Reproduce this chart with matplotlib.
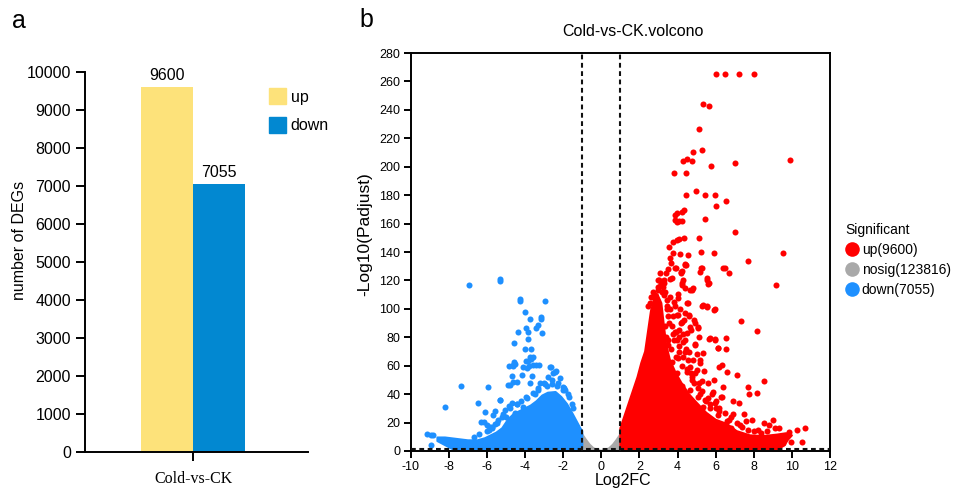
import numpy as np
import matplotlib.pyplot as plt
from matplotlib.patches import Patch
from matplotlib.lines import Line2D

plt.rcParams['font.family'] = ['Liberation Sans', 'DejaVu Sans']
plt.rcParams['axes.unicode_minus'] = False

# ---- panel a: counts of DEGs
groups = ['Cold-vs-CK']
deg_labels = ['up', 'down']
deg_counts = [9600, 7055]
bar_colors = ['#FDE27A', '#0288D1']

# ---- panel b: volcano, scattered points
up_x = [6.0, 6.5, 7.2, 8.0, 5.35, 5.63, 5.13, 4.79, 5.27, 9.92, 3.80, 4.44,
        4.27, 4.51, 4.76, 5.77, 7.03, 4.95, 4.46, 5.42, 5.97, 6.56, 6.0, 4.35,
        4.25, 3.97, 3.88, 4.23, 3.88, 3.99, 4.09, 5.44, 7.03, 5.13, 4.32, 4.09,
        3.95, 3.74, 3.57, 9.55, 7.70, 9.15, 7.33, 8.19, 5.93, 5.25, 6.49, 6.72,
        5.56, 5.63, 5.23, 5.18, 5.27, 5.55, 5.93, 5.65, 5.98, 6.53, 6.11, 6.56,
        6.18, 6.61, 7.12, 8.54, 7.71, 7.75, 8.15, 8.99, 10.7, 10.28, 9.86, 9.55,
        9.97, 10.51, 9.15, 8.55, 3.78, 4.13, 4.53, 3.60, 3.92, 4.17, 4.39, 4.22,
        4.65, 4.04, 3.69, 3.15, 3.25, 2.91, 2.73, 4.57, 5.06, 4.48, 4.18, 4.44,
        3.87, 4.39, 4.22, 5.27, 3.22, 3.60, 4.22, 4.39, 4.74, 5.53, 5.62, 6.40,
        3.43, 4.04, 4.48, 5.36, 5.53, 5.97, 3.95, 4.39, 4.22, 4.65, 5.09, 3.87,
        5.71, 5.97, 6.14, 4.30, 4.91, 5.36, 4.39, 5.18, 6.31, 4.65, 4.48, 5.01,
        4.74, 5.27, 4.22, 4.65, 5.88, 5.09, 5.62, 6.31, 5.97, 5.36, 4.04, 3.52,
        3.69, 3.95, 2.82, 2.99, 3.34, 4.30, 4.83,
        3.5, 3.7, 3.9, 3.6, 3.3, 3.8, 4.0, 4.2, 4.4, 4.6, 4.8, 4.3, 4.1, 4.5,
        4.9, 5.1, 5.3, 5.0, 5.2, 4.7, 4.9, 5.4, 5.6, 5.8, 6.0, 6.2, 6.5, 6.8,
        7.1, 7.4, 7.7, 8.0, 8.4, 5.5, 5.7, 6.1, 6.6, 6.9, 7.2, 6.4, 5.9, 6.8,
        3.4, 3.45, 3.2, 3.6, 3.0, 2.8, 3.55, 4.85, 5.15, 4.6, 7.9, 8.8, 9.3,
        6.3, 7.5, 4.75, 3.95, 3.35, 2.6, 2.45, 3.1, 3.3, 2.7, 2.55, 3.05, 3.5,
        3.75, 4.1, 6.7, 7.3, 6.9, 8.2, 8.7, 9.1, 7.6, 6.2,
        3.4, 3.55, 3.65, 3.8, 3.9, 4.05, 3.75, 3.45, 3.85, 4.15, 4.1, 4.3,
        4.45, 4.55, 4.25, 4.7, 4.85, 5.05, 5.2, 5.45, 5.7, 6.0, 4.35, 3.3,
        3.1, 2.95, 3.5, 3.65, 4.6, 4.9]
up_y = [265, 265, 265, 265, 243.9, 242.7, 226.3, 210.6, 211.5, 205, 195.4, 195.4,
        204, 205.4, 204, 200.3, 202.8, 182.9, 180.4, 180.4, 180.4, 175.9, 172.7, 169.5,
        167.9, 167.2, 166, 161.8, 162.3, 160.9, 162, 163.2, 154.3, 150.1, 150, 149,
        148.4, 147, 143.7, 139.1, 133.7, 117, 91.5, 84.6, 139, 140, 128.7, 125.4,
        121.5, 118, 128.7, 126, 102.2, 102.2, 99.2, 79, 78.6, 79.5, 72.7, 71.5,
        59.1, 55.8, 53.5, 49.5, 44.8, 40.3, 40.6, 22, 16.4, 14.8, 13.4, 5.8,
        6.3, 6.3, 6.8, 19.7, 139.1, 138.6, 137.9, 135.6, 128.5, 125.9, 131.3, 118,
        113.3, 110.7, 121.5, 119.1, 115.6, 105, 99.2, 103.9, 86.3, 82.8, 125.4, 130.8,
        128.5, 130.9, 126.6, 128.5, 119.6, 121, 116.8, 114.4, 113.3, 120.3, 117.3, 128.5,
        106.2, 107.4, 103.9, 102.7, 101.5, 99.9, 95.7, 96.9, 91, 87.5, 87.5, 83.9,
        79.3, 78.1, 72.2, 76.9, 74.6, 68.7, 69.6, 64.2, 60.5, 59.3, 55.8, 57,
        50, 48.9, 45.4, 43, 41.8, 38.3, 37.1, 38.3, 33.6, 31.3, 65.2, 74.6,
        62.9, 54.6, 107.4, 115.6, 112.1, 120.3, 114.4,
        95, 88, 84, 100, 110, 105, 96, 90, 78, 70, 64, 66, 74, 58,
        55, 48, 42, 68, 62, 85, 75, 56, 48, 40, 35, 30, 27, 24,
        20, 17, 15, 14, 13, 35, 30, 25, 21, 35, 34, 45, 50, 16,
        125, 102, 112, 108, 113, 110, 62, 92, 80, 96, 22, 18, 16,
        38, 26, 52, 78, 88, 108, 102, 116, 118, 112, 104, 120, 78,
        82, 80, 22, 18, 26, 15, 14, 16, 21, 28,
        80, 90, 72, 78, 66, 70, 95, 100, 102, 100, 85, 82,
        72, 64, 60, 55, 48, 44, 40, 36, 33, 30, 92, 120,
        125, 120, 128, 132, 95, 90]

down_x = [-6.94, -5.33, -5.33, -4.28, -4.25, -2.97, -4.02, -3.74, -3.16, -3.15,
          -3.34, -3.43, -3.95, -4.37, -3.86, -3.13, -3.86, -4.58, -4.0, -3.70,
          -3.58, -3.69, -3.83, -3.97, -4.09, -3.78, -3.41, -3.25, -4.84, -4.62,
          -4.51, -4.56, -2.65, -2.38, -4.71, -4.41, -4.90, -3.64, -7.34, -5.93,
          -8.20, -6.47, -8.95, -9.16, -8.95, -8.83, -6.10, -5.58, -5.33, -6.33,
          -6.15, -5.72, -3.74, -3.56, -3.91, -4.61, -4.17, -4.79, -4.61, -3.74,
          -3.21, -2.78, -2.51, -5.31, -5.05, -4.53, -4.35, -4.09, -5.84, -5.66,
          -2.16, -1.90, -2.69, -2.43, -3.0, -2.6, -2.3, -1.95, -1.7, -3.5,
          -4.4, -3.9, -5.5, -5.2, -4.8, -6.0, -1.5, -2.0, -3.3, -2.85,
          -6.0, -5.9, -5.6, -5.4, -5.15, -5.0, -4.85, -4.7, -4.45, -4.2,
          -3.95, -3.6, -3.3, -2.95, -2.6, -2.25, -2.0, -1.75, -1.55, -6.4,
          -6.7, -5.75]
down_y = [116.8, 121, 119.6, 106.7, 105.5, 105.7, 97.8, 93.1, 94.5, 93.1,
          88.6, 86.3, 86.8, 83.7, 83.7, 82.8, 78.6, 76.2, 72, 71.5,
          65.9, 64.7, 63.3, 63.3, 58.9, 60, 60.3, 60.3, 59.5, 60,
          61.2, 62.6, 59.1, 56.5, 52.8, 48.8, 46.2, 52.8, 45.7, 45,
          30.7, 33.8, 4.4, 11.7, 11.3, 11.3, 27.2, 28.1, 35.7, 20.6,
          20.2, 17.1, 66.3, 60.5, 58.2, 60.5, 53.5, 46.4, 48.8, 47.6,
          47.6, 52.3, 54.6, 35.9, 28.8, 26.5, 21.8, 31.2, 17.2, 25.3,
          51.1, 42.9, 59.3, 55.8, 48, 47, 46, 44, 38, 40,
          33, 37, 20, 24, 30, 14, 30, 43, 43, 46,
          18, 15, 19, 22, 26, 24, 32, 34, 33, 35,
          38, 41, 44, 47, 50, 48, 45, 40, 33, 12,
          10, 16]

# outlines of the solid clouds where points overlap completely
up_core_x = [1.0, 1.0, 1.3, 1.6, 1.9, 2.1, 2.3, 2.45, 2.6, 2.75, 2.95, 3.15, 3.25,
             3.4, 3.6, 3.9, 4.2, 4.6, 5.0, 5.5, 6.0, 6.6, 7.1, 7.8,
             8.5, 9.2, 9.7, 10.0, 9.8, 9.6, 9.3]
up_core_y = [1.3, 16, 28, 40, 52, 62, 70, 84, 98, 106, 110, 104, 92,
             75, 64, 55, 48, 40, 34, 27, 22, 19, 14, 11,
             10.5, 11.5, 12.5, 11, 8, 4, 1.3]
down_core_x = [-8.6, -8.2, -7.6, -7.0, -6.5, -6.1, -5.8, -5.5, -5.2, -4.9, -4.6,
               -4.3, -4.0, -3.7, -3.4, -3.1, -2.8, -2.4, -2.1, -1.8, -1.5, -1.3,
               -1.1, -1.0, -1.0, -7.8, -8.6]
down_core_y = [9.5, 9.5, 8.5, 7.5, 7.5, 9, 11, 13, 16, 22, 26,
               28, 30, 32, 35, 39, 41, 41.5, 38, 33, 26, 21,
               16, 14, 1.3, 1.3, 7]
nosig_core_x = [-7.5, -1.3, -1.2, -1.0, -0.8, -0.6, -0.4, -0.2, 0.0, 0.2, 0.4,
                0.6, 0.8, 1.0, 1.2, 1.3, 8.0, 8.0, -7.5]
nosig_core_y = [1.3, 1.3, 12, 12, 8, 4.5, 2, 0.8, 0.3, 0.8, 2,
                4.5, 8, 12, 13, 1.3, 1.3, 0, 0]

sig_labels = ['up(9600)', 'nosig(123816)', 'down(7055)']
sig_colors = ['#FF0000', '#A9A9A9', '#1E90FF']

fig = plt.figure(figsize=(9.57, 4.9), dpi=100)

# ---------------- panel a
ax1 = fig.add_axes([0.0888, 0.0776, 0.233, 0.775])
width = 0.235
xpos = np.arange(len(groups))
for i, (lab, cnt, col) in enumerate(zip(deg_labels, deg_counts, bar_colors)):
    off = (i - 0.5) * width
    ax1.bar(xpos + off, [cnt], width, color=col, label=lab)
    ax1.annotate(str(cnt), (xpos[0] + off, cnt), xytext=(0, 3),
                 textcoords='offset points', ha='center', va='bottom', fontsize=11.5)
ax1.set_xlim(-0.49, 0.52)
ax1.set_ylim(0, 10000)
ax1.set_yticks(range(0, 10001, 1000))
ax1.set_xticks(xpos)
ax1.set_xticklabels(groups, family='Liberation Serif', fontsize=11.5)
for s in ['top', 'right']:
    ax1.spines[s].set_visible(False)
for s in ['left', 'bottom']:
    ax1.spines[s].set_linewidth(1.4)
ax1.tick_params(axis='both', direction='out', length=6.5, width=1.4, labelsize=11.5)
ax1.tick_params(axis='x', pad=7)
ax1.set_ylabel('number of DEGs', fontsize=11.5)
ax1.yaxis.set_label_coords(-0.26, 0.558)
handles = [Patch(color=c) for c in bar_colors]
fig.legend(handles, deg_labels, loc='upper left', bbox_to_anchor=(269 / 957, 1 - 88 / 490),
           frameon=False, fontsize=11.5, handlelength=1.06, handleheight=1.2,
           handletextpad=0.3, labelspacing=0.75, borderpad=0, borderaxespad=0)

# ---------------- panel b
ax2 = fig.add_axes([0.4292, 0.0796, 0.4381, 0.8122])
ax2.fill(nosig_core_x, nosig_core_y, color=sig_colors[1], lw=1.2, zorder=1)
ax2.fill(down_core_x, down_core_y, color=sig_colors[2], lw=1.5, joinstyle='round', zorder=2)
ax2.fill(up_core_x, up_core_y, color=sig_colors[0], lw=1.5, joinstyle='round', zorder=2)
ax2.scatter(down_x, down_y, s=19, color=sig_colors[2], lw=0, zorder=3)
ax2.scatter(up_x, up_y, s=19, color=sig_colors[0], lw=0, zorder=3)
for xv in [-1, 1]:
    ax2.axvline(xv, color='#111111', lw=1.5, ls=(0, (2.3, 1.7)), zorder=4)
ax2.axhline(1.3, color='#111111', lw=1.5, ls=(0, (2.3, 1.7)), zorder=4)
ax2.set_xlim(-10, 12)
ax2.set_ylim(0, 280)
ax2.set_xticks(range(-10, 13, 2))
ax2.set_yticks(range(0, 281, 20))
for s in ax2.spines.values():
    s.set_linewidth(1.4)
ax2.tick_params(axis='both', direction='out', length=5, width=1.4, labelsize=9, pad=2.5)
ax2.set_xlabel('Log2FC', fontsize=11.5)
ax2.xaxis.set_label_coords(0.506, -0.055)
ax2.set_ylabel('-Log10(Padjust)', fontsize=12.5)
ax2.yaxis.set_label_coords(-0.092, 0.545)
fig.text(632.7 / 957, 1 - 36 / 490, 'Cold-vs-CK.volcono', ha='center', va='baseline',
         fontsize=11.5)

sig_handles = [Line2D([], [], ls='', marker='o', markersize=10.5, markerfacecolor=c,
                      markeredgewidth=0) for c in sig_colors]
fig.legend(sig_handles, sig_labels, title='Significant', loc='upper left',
           bbox_to_anchor=(845 / 957, 1 - 223 / 490), frameon=False, fontsize=10,
           title_fontsize=10, alignment='left', handlelength=1.0, handletextpad=0.2,
           labelspacing=0.43, borderpad=0, borderaxespad=0)

fig.text(12 / 957, 1 - 28 / 490, 'a', fontsize=18, va='baseline')
fig.text(359 / 957, 1 - 27 / 490, 'b', fontsize=18, va='baseline')

fig.savefig('out.png', dpi=100)
